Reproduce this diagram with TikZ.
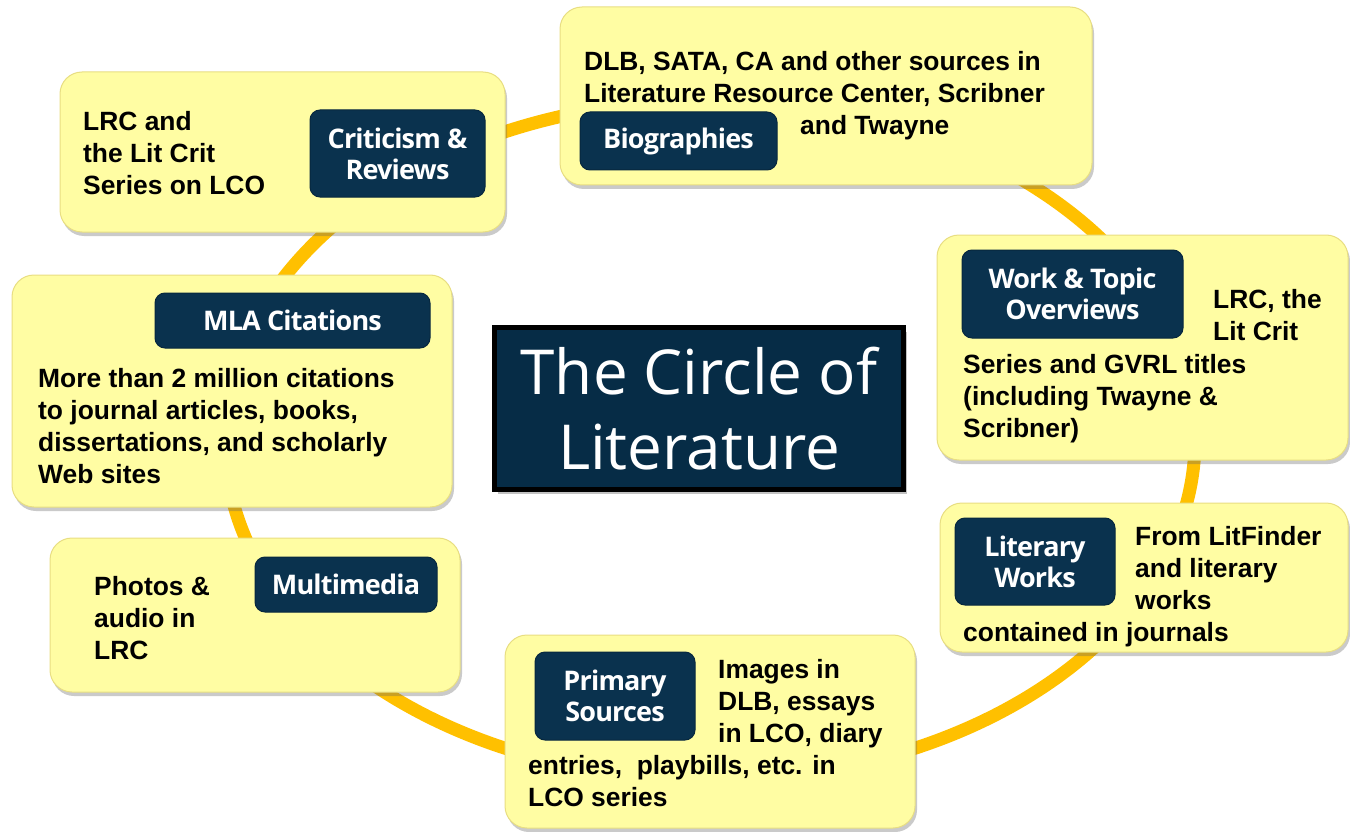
\documentclass[tikz,border=0pt]{standalone}
\usepackage{fontspec}
\setmainfont{Liberation Sans}
\newfontfamily\lblfont[LetterSpace=-3]{Open Sans}
\newfontfamily\titlefont{Open Sans}
\usetikzlibrary{shadows}
\definecolor{ringc}{RGB}{255,192,0}
\definecolor{ybg}{RGB}{255,253,163}
\definecolor{yedge}{RGB}{232,222,130}
\definecolor{navy}{RGB}{10,50,78}
\definecolor{navyc}{RGB}{6,44,70}
\newcommand{\txtlines}[1]{\begin{tabular}[t]{@{}l@{}}#1\end{tabular}}
\tikzset{
  ybox/.style={draw=yedge, line width=1pt, fill=ybg, rounded corners=22pt,
    drop shadow={shadow xshift=2pt, shadow yshift=-4pt, opacity=0.35, fill=black!60}},
  lbl/.style={fill=navy, draw=navy!80!black, line width=1pt, rounded corners=10pt,
    text=white, align=center, inner sep=0pt,
    font=\lblfont\bfseries\fontsize{27}{31}\selectfont},
  body/.style={anchor=base west, inner sep=0pt, text=black,
    font=\bfseries\fontsize{26.4}{32}\selectfont},
  ringline/.style={draw=ringc, line width=13pt},
  titlebox/.style={fill=navyc, draw=black, line width=5pt, text=white, align=center,
    font=\titlefont\fontsize{62}{75}\selectfont,
    drop shadow={shadow xshift=3pt, shadow yshift=-4pt, opacity=0.4, fill=black!60}}
}
\begin{document}
\begin{tikzpicture}[x=1pt,y=-1pt]
\useasboundingbox (0,0) rectangle (1350,832);
% ring
\draw[ringline] (710,440) ellipse [x radius=485, y radius=340];
% yellow boxes
\node[ybox, minimum width=445pt, minimum height=160pt] (critbox) at (282.5,152) {};
\node[ybox, minimum width=532pt, minimum height=178pt] (biobox) at (826,96) {};
\node[ybox, minimum width=411pt, minimum height=225pt] (workbox) at (1142.5,347.5) {};
\node[ybox, minimum width=408pt, minimum height=149pt] (litbox) at (1144,577.5) {};
\node[ybox, minimum width=410pt, minimum height=193pt] (primbox) at (710,731.5) {};
\node[ybox, minimum width=410pt, minimum height=154pt] (mmbox) at (255,615) {};
\node[ybox, minimum width=440pt, minimum height=232pt] (mlabox) at (232,391) {};
% center
\node[titlebox, minimum width=409pt, minimum height=162pt] (title) at (699,408.5) {The Circle of\\Literature};
% labels
\node[lbl, minimum width=175pt, minimum height=87pt] (critlbl) at (397.5,153.5) {Criticism \&\\Reviews};
\node[lbl, minimum width=197pt, minimum height=58pt] (biolbl) at (678.5,141) {Biographies};
\node[lbl, minimum width=221pt, minimum height=88pt] (worklbl) at (1072.5,294) {Work \& Topic\\Overviews};
\node[lbl, minimum width=160pt, minimum height=87pt] (litlbl) at (1035,561.5) {Literary\\Works};
\node[lbl, minimum width=160pt, minimum height=88pt] (primlbl) at (615,696) {Primary\\Sources};
\node[lbl, minimum width=182pt, minimum height=55pt] (mmlbl) at (346,584.5) {Multimedia};
\node[lbl, minimum width=275pt, minimum height=55pt] (mlalbl) at (292.5,320.5) {MLA Citations};
% body texts
\node[body] (crittxt) at (83,131) {\txtlines{LRC and\\the Lit Crit\\Series on LCO}};
\node[body] (biotxt) at (584,71) {\txtlines{DLB, SATA, CA and other sources in\\Literature Resource Center, Scribner}};
\node[body] (biotxtb) at (800,135) {and Twayne};
\node[body] (worktxt) at (1213,308) {\txtlines{LRC, the\\Lit Crit}};
\node[body] (worktxtb) at (963,373) {\txtlines{Series and GVRL titles\\(including Twayne \&\\Scribner)}};
\node[body] (littxt) at (1135,545) {\txtlines{From LitFinder\\and literary\\works}};
\node[body] (littxtb) at (963,641) {contained in journals};
\node[body] (primtxt) at (718,678) {\txtlines{Images in\\DLB, essays\\in LCO, diary}};
\node[body] (primtxtb) at (528,774) {\txtlines{entries,\ \ playbills, etc. in\\LCO series}};
\node[body] (mmtxt) at (94,595) {\txtlines{Photos \&\\audio in\\LRC}};
\node[body] (mlatxt) at (38,387) {\txtlines{More than 2 million citations\\to journal articles, books,\\dissertations, and scholarly\\Web sites}};
\end{tikzpicture}
\end{document}
